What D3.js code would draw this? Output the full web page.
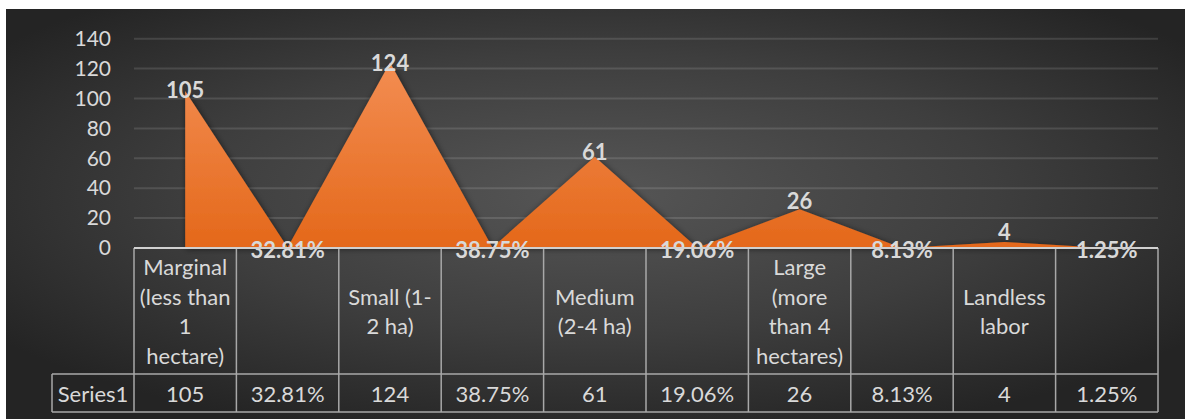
<!DOCTYPE html>
<html>
<head>
<meta charset="utf-8">
<script src="https://cdn.jsdelivr.net/npm/d3@7"></script>
<style>
  html, body { margin: 0; padding: 0; background: #fff; }
  svg { display: block; }
</style>
</head>
<body>
<div id="chart"></div>
<script>
// ===== FARMER CATEGORY AREA CHART WITH DATA TABLE =====

// Data
const categories = [
  ['Marginal', '(less than', '1', 'hectare)'],
  [],
  ['Small (1-', '2 ha)'],
  [],
  ['Medium', '(2-4 ha)'],
  [],
  ['Large', '(more', 'than 4', 'hectares)'],
  [],
  ['Landless', 'labor'],
  []
];
const values = [105, 0.3281, 124, 0.3875, 61, 0.1906, 26, 0.0813, 4, 0.0125];
const valueLabels = ['105', '32.81%', '124', '38.75%', '61', '19.06%', '26', '8.13%', '4', '1.25%'];
const isPercent = [false, true, false, true, false, true, false, true, false, true];
const seriesName = 'Series1';
const yTicks = [0, 20, 40, 60, 80, 100, 120, 140];

const W = 1185, H = 419;
const font = "Lato, 'Open Sans', sans-serif";
const textColor = '#d9d9d9';

const svg = d3.select('#chart').append('svg')
  .attr('width', W)
  .attr('height', H);

const defs = svg.append('defs');

// Background gradient (dark radial)
const bg = defs.append('radialGradient')
  .attr('id', 'bg-grad')
  .attr('cx', '0.5').attr('cy', '0.45').attr('r', '0.62');
bg.append('stop').attr('offset', '0').attr('stop-color', '#565656');
bg.append('stop').attr('offset', '0.55').attr('stop-color', '#3e3e3e');
bg.append('stop').attr('offset', '1').attr('stop-color', '#242424');

svg.append('rect')
  .attr('x', 6).attr('y', 9)
  .attr('width', W - 6).attr('height', H - 9)
  .attr('fill', 'url(#bg-grad)');

// Layout
const plot = { left: 134, right: 1158, top: 38.7, bottom: 248 };
const tableRow1Bottom = 374;
const tableBottom = 412;
const headerLeft = 52;

const x = d3.scaleBand()
  .domain(d3.range(values.length))
  .range([plot.left, plot.right]);
const cx = i => x(i) + x.bandwidth() / 2;

const y = d3.scaleLinear()
  .domain([0, 140])
  .range([plot.bottom, plot.top]);

// Area gradient + shadow
const areaGrad = defs.append('linearGradient')
  .attr('id', 'area-grad')
  .attr('gradientUnits', 'userSpaceOnUse')
  .attr('x1', 0).attr('x2', 0)
  .attr('y1', y(124)).attr('y2', y(0));
areaGrad.append('stop').attr('offset', '0').attr('stop-color', '#f38d52');
areaGrad.append('stop').attr('offset', '1').attr('stop-color', '#e4681a');

const shadow = defs.append('filter')
  .attr('id', 'area-shadow')
  .attr('x', '-10%').attr('y', '-10%')
  .attr('width', '120%').attr('height', '120%');
shadow.append('feDropShadow')
  .attr('dx', 1).attr('dy', 1)
  .attr('stdDeviation', 3)
  .attr('flood-color', '#000')
  .attr('flood-opacity', 0.55);

// Gridlines
const g = svg.append('g');
g.selectAll('.grid')
  .data(yTicks.filter(d => d > 0))
  .join('line')
  .attr('class', 'grid')
  .attr('x1', plot.left).attr('x2', plot.right)
  .attr('y1', d => y(d)).attr('y2', d => y(d))
  .attr('stroke', 'rgba(255,255,255,0.12)')
  .attr('stroke-width', 2);

// Y axis labels
const yAxis = d3.axisLeft(y).tickValues(yTicks).tickSize(0).tickPadding(0);
const yAxisG = g.append('g')
  .attr('transform', 'translate(111,0)')
  .call(yAxis);
yAxisG.select('.domain').remove();
yAxisG.selectAll('text')
  .attr('fill', textColor)
  .style('font-family', font)
  .style('font-size', '21px');

// Area
const area = d3.area()
  .x((d, i) => cx(i))
  .y0(y(0))
  .y1(d => y(d));

g.append('path')
  .datum(values)
  .attr('d', area)
  .attr('fill', 'url(#area-grad)')
  .attr('filter', 'url(#area-shadow)');

// Data labels
g.selectAll('.dlabel')
  .data(values)
  .join('text')
  .attr('class', 'dlabel')
  .attr('x', (d, i) => cx(i))
  .attr('y', (d, i) => isPercent[i] ? y(0) + 1 : y(d) - 11 * (1 - d / 124))
  .attr('text-anchor', 'middle')
  .attr('dominant-baseline', 'central')
  .attr('fill', textColor)
  .style('font-family', font)
  .style('font-weight', 700)
  .style('font-size', '22px')
  .text((d, i) => valueLabels[i]);

// Data table
const border = '#a8a8a8';
const tbl = svg.append('g');

// vertical lines
tbl.selectAll('.vline')
  .data(d3.range(values.length + 1))
  .join('line')
  .attr('class', 'vline')
  .attr('x1', i => i < values.length ? x(i) : plot.right)
  .attr('x2', i => i < values.length ? x(i) : plot.right)
  .attr('y1', plot.bottom).attr('y2', tableBottom)
  .attr('stroke', border).attr('stroke-width', 1.5);

// horizontal lines
tbl.append('line')
  .attr('x1', headerLeft).attr('x2', plot.right)
  .attr('y1', tableRow1Bottom).attr('y2', tableRow1Bottom)
  .attr('stroke', border).attr('stroke-width', 1.5);
tbl.append('line')
  .attr('x1', headerLeft).attr('x2', plot.right)
  .attr('y1', tableBottom).attr('y2', tableBottom)
  .attr('stroke', border).attr('stroke-width', 1.5);
tbl.append('line')
  .attr('x1', headerLeft).attr('x2', headerLeft)
  .attr('y1', tableRow1Bottom).attr('y2', tableBottom)
  .attr('stroke', border).attr('stroke-width', 1.5);

// category axis line (top of table)
tbl.append('line')
  .attr('x1', plot.left).attr('x2', plot.right)
  .attr('y1', plot.bottom).attr('y2', plot.bottom)
  .attr('stroke', '#d0d0d0').attr('stroke-width', 2);

// category labels
const lineH = 29.5;
const headerMid = (plot.bottom + tableRow1Bottom) / 2;
categories.forEach((lines, i) => {
  const t = tbl.append('text')
    .attr('text-anchor', 'middle')
    .attr('fill', textColor)
    .style('font-family', font)
    .style('font-size', '22px');
  lines.forEach((ln, k) => {
    t.append('tspan')
      .attr('x', cx(i))
      .attr('y', headerMid + (k - (lines.length - 1) / 2) * lineH)
      .attr('dominant-baseline', 'central')
      .text(ln);
  });
});

// value row
const rowMid = (tableRow1Bottom + tableBottom) / 2;
tbl.append('text')
  .attr('x', (headerLeft + plot.left) / 2)
  .attr('y', rowMid)
  .attr('text-anchor', 'middle')
  .attr('dominant-baseline', 'central')
  .attr('fill', textColor)
  .style('font-family', font)
  .style('font-size', '22px')
  .text(seriesName);

tbl.selectAll('.vlabel')
  .data(valueLabels)
  .join('text')
  .attr('class', 'vlabel')
  .attr('x', (d, i) => cx(i))
  .attr('y', rowMid)
  .attr('text-anchor', 'middle')
  .attr('dominant-baseline', 'central')
  .attr('fill', textColor)
  .style('font-family', font)
  .style('font-size', '22px')
  .text(d => d);
</script>
</body>
</html>
